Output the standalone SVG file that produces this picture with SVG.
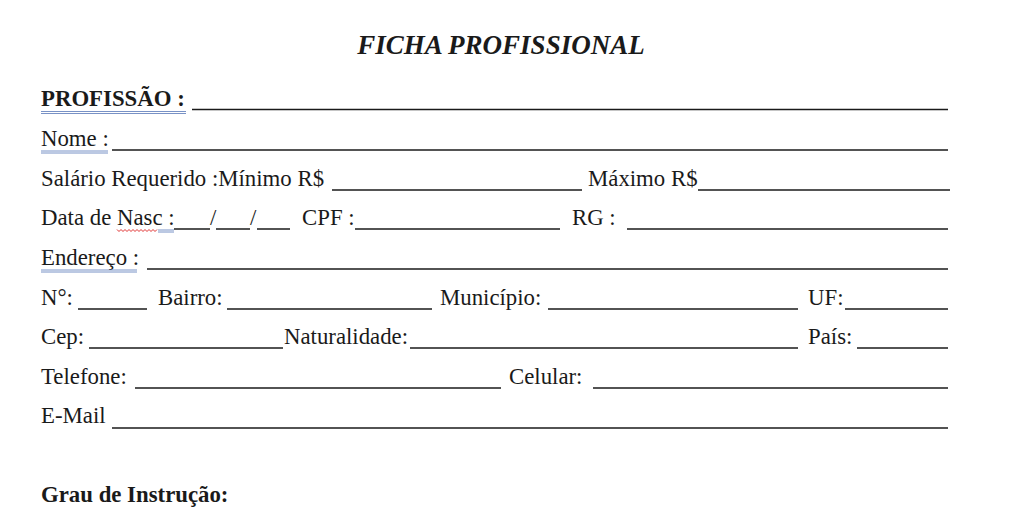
<svg xmlns="http://www.w3.org/2000/svg" width="1012" height="512" viewBox="0 0 1012 512">
<style>
text{font-family:"Liberation Serif","Times New Roman",serif;font-size:22.8px;fill:#1a1a1a}
.b{font-weight:bold}
.t{font-weight:bold;font-style:italic;font-size:27px}
.f{stroke:#1a1a1a;stroke-width:1.4;fill:none}
.u{stroke:#6a86c0;stroke-width:0.9;fill:none}
.w{stroke:#e03030;stroke-width:1;fill:none}
</style>
<rect width="1012" height="512" fill="#ffffff"/>
<g id="title"><text class="t" x="501" y="54" text-anchor="middle">FICHA PROFISSIONAL</text></g>
<g id="row-profissao">
<text class="b" x="41" y="106">PROFISSÃO :</text>
<line class="u" x1="41" y1="111.5" x2="186" y2="111.5"/><line class="u" x1="41" y1="113.5" x2="186" y2="113.5"/>
<line class="f" x1="192" y1="109.5" x2="948" y2="109.5"/>
</g>
<g id="row-nome">
<text x="41" y="146">Nome :</text>
<line class="u" x1="41" y1="151" x2="108" y2="151"/><line class="u" x1="41" y1="153" x2="108" y2="153"/>
<line class="f" x1="112" y1="150" x2="948" y2="150"/>
</g>
<g id="row-salario">
<text x="41" y="186">Salário Requerido :Mínimo R$</text>
<line class="f" x1="332" y1="190" x2="582" y2="190"/>
<text x="588" y="186">Máximo R$</text>
<line class="f" x1="698" y1="190" x2="950" y2="190"/>
</g>
<g id="row-data">
<text x="41" y="225">Data de Nasc :</text>
<polyline class="w" points="117,229.5 119,231.5 121,229.5 123,231.5 125,229.5 127,231.5 129,229.5 131,231.5 133,229.5 135,231.5 137,229.5 139,231.5 141,229.5 143,231.5 145,229.5 147,231.5 149,229.5 151,231.5 153,229.5 155,231.5 157,229.5"/>
<line class="u" x1="158" y1="230" x2="174" y2="230"/><line class="u" x1="158" y1="232" x2="174" y2="232"/>
<line class="f" x1="174" y1="229" x2="210" y2="229"/>
<text x="210" y="225">/</text>
<line class="f" x1="216" y1="229" x2="250" y2="229"/>
<text x="250" y="225">/</text>
<line class="f" x1="257" y1="229" x2="290" y2="229"/>
<text x="302" y="225">CPF :</text>
<line class="f" x1="355" y1="229" x2="560" y2="229"/>
<text x="572" y="225">RG :</text>
<line class="f" x1="627" y1="229" x2="948" y2="229"/>
</g>
<g id="row-endereco">
<text x="41" y="265">Endereço :</text>
<line class="u" x1="41" y1="270" x2="137" y2="270"/><line class="u" x1="41" y1="272" x2="137" y2="272"/>
<line class="f" x1="147" y1="269" x2="948" y2="269"/>
</g>
<g id="row-numero">
<text x="41" y="305">N°:</text>
<line class="f" x1="78" y1="309" x2="147" y2="309"/>
<text x="158" y="305">Bairro:</text>
<line class="f" x1="227" y1="309" x2="432" y2="309"/>
<text x="440" y="305">Município:</text>
<line class="f" x1="548" y1="309" x2="798" y2="309"/>
<text x="808" y="305">UF:</text>
<line class="f" x1="845" y1="309" x2="948" y2="309"/>
</g>
<g id="row-cep">
<text x="41" y="344">Cep:</text>
<line class="f" x1="89" y1="348" x2="283" y2="348"/>
<text x="284" y="344">Naturalidade:</text>
<line class="f" x1="410" y1="348" x2="798" y2="348"/>
<text x="808" y="344">País:</text>
<line class="f" x1="857" y1="348" x2="948" y2="348"/>
</g>
<g id="row-telefone">
<text x="41" y="384">Telefone:</text>
<line class="f" x1="135" y1="388" x2="501" y2="388"/>
<text x="509" y="384">Celular:</text>
<line class="f" x1="593" y1="388" x2="948" y2="388"/>
</g>
<g id="row-email">
<text x="41" y="423">E-Mail</text>
<line class="f" x1="112" y1="428" x2="948" y2="428"/>
</g>
<g id="row-grau"><text class="b" x="41" y="502">Grau de Instrução:</text></g>
</svg>
